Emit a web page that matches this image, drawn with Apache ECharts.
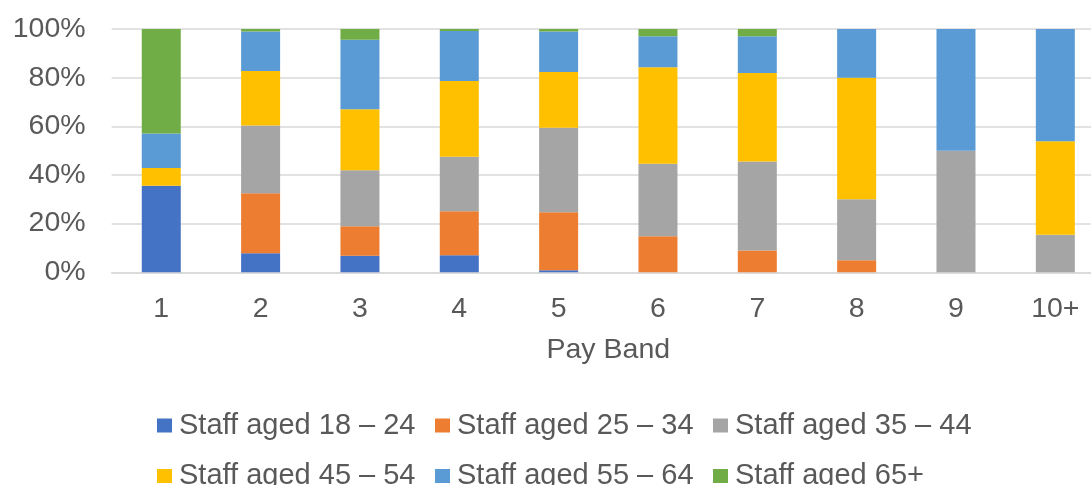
<!DOCTYPE html>
<html>
<head>
<meta charset="utf-8">
<script src="https://cdn.jsdelivr.net/npm/echarts@6/dist/echarts.min.js"></script>
<style>
html,body{margin:0;padding:0;background:#fff;}
#chart{width:1091px;height:485px;}
</style>
</head>
<body>
<div id="chart"></div>
<script>
const categories = ['1','2','3','4','5','6','7','8','9','10+'];
const yTicks = [0, 20, 40, 60, 80, 100];
const seriesNames = ['Staff aged 18 – 24','Staff aged 25 – 34','Staff aged 35 – 44','Staff aged 45 – 54','Staff aged 55 – 64','Staff aged 65+'];
const aged18to24 = [35.6, 7.8, 6.8, 7.0, 0.8, 0, 0, 0, 0, 0];
const aged25to34 = [0, 24.7, 12.1, 18.1, 23.9, 14.8, 9.0, 5.0, 0, 0];
const aged35to44 = [0, 27.8, 23.0, 22.4, 34.7, 29.8, 36.5, 25.0, 50.0, 15.4];
const aged45to54 = [7.3, 22.4, 25.1, 31.1, 22.9, 39.7, 36.4, 50.0, 0, 38.5];
const aged55to64 = [14.1, 16.3, 28.6, 20.6, 16.7, 12.7, 15.1, 20.0, 50.0, 46.1];
const aged65plus = [43.0, 1.0, 4.4, 0.8, 1.0, 3.0, 3.0, 0, 0, 0];
const colors = ['#4472C4','#ED7D31','#A5A5A5','#FFC000','#5B9BD5','#70AD47'];

const allData = [aged18to24, aged25to34, aged35to44, aged45to54, aged55to64, aged65plus];
const font = '"Liberation Sans", Arial, sans-serif';
const textColor = '#595959';

const chart = echarts.init(document.getElementById('chart'), null, {renderer:'canvas'});
chart.setOption({
  animation: false,
  color: colors,
  grid: {left: 111.6, top: 29, width: 993.4, height: 243.3, containLabel: false, outerBoundsMode: 'none'},
  legend: {
    left: 157, top: 410, width: 860,
    padding: 0,
    itemWidth: 15, itemHeight: 14, itemGap: 19.5,
    icon: 'rect',
    data: seriesNames,
    textStyle: {fontFamily: font, fontSize: 29, color: textColor, lineHeight: 31, padding: [0,0,0,2]}
  },
  xAxis: {
    type: 'category',
    data: categories,
    name: 'Pay Band',
    nameLocation: 'middle',
    nameGap: 63,
    nameTextStyle: {fontFamily: font, fontSize: 28.5, color: textColor},
    axisLine: {lineStyle: {color: '#d9d9d9', width: 1.5}},
    axisTick: {show: false},
    axisLabel: {fontFamily: font, fontSize: 28.5, color: textColor, margin: 22}
  },
  yAxis: {
    type: 'value',
    min: yTicks[0], max: yTicks[yTicks.length-1], interval: yTicks[1]-yTicks[0],
    axisLine: {show: false},
    axisTick: {show: false},
    splitLine: {lineStyle: {color: '#d9d9d9', width: 1.5}},
    axisLabel: {fontFamily: font, fontSize: 28.5, color: textColor, margin: 26, formatter: '{value}%'}
  },
  series: seriesNames.map((n, i) => ({
    name: n,
    type: 'bar',
    stack: 'total',
    barWidth: 39,
    data: allData[i]
  }))
});
</script>
</body>
</html>
